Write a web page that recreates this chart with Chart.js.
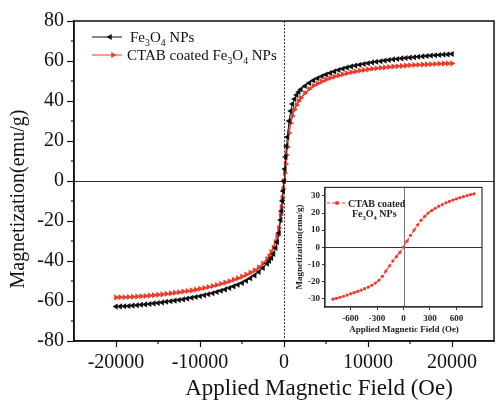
<!DOCTYPE html>
<html>
<head>
<meta charset="utf-8">
<script src="https://cdn.jsdelivr.net/npm/chart.js@4.4.1/dist/chart.umd.min.js"></script>
<style>
  html, body { margin: 0; padding: 0; background: #fff; }
  #wrap { position: relative; width: 498px; height: 400px; }
  #main { position: absolute; left: 0; top: 0; }
  #inset { position: absolute; left: 290px; top: 180px; }
</style>
</head>
<body>
<div id="wrap">
  <canvas id="main" width="498" height="400" style="width:498px;height:400px"></canvas>
  <canvas id="inset" width="200" height="160" style="width:200px;height:160px"></canvas>
</div>
<script>
// applied field (Oe), main plot
const field = [-20000,-19500,-19000,-18500,-18000,-17500,-17000,-16500,-16000,-15500,-15000,
  -14500,-14000,-13500,-13000,-12500,-12000,-11500,-11000,-10500,-10000,
  -9500,-9000,-8500,-8000,-7500,-7000,-6500,-6000,-5500,-5000,
  -4500,-4000,-3500,-3000,-2500,-2000,
  -1750,-1500,-1250,-1000,-800,-600,-400,-300,-200,-100,0,100,200,300,400,600,800,1000,1250,1500,1750,
  2000,2500,3000,3500,4000,4500,5000,5500,6000,6500,7000,7500,8000,8500,9000,9500,10000,
  10500,11000,11500,12000,12500,13000,13500,14000,14500,15000,
  15500,16000,16500,17000,17500,18000,18500,19000,19500,20000];

// Fe3O4 NPs magnetization (emu/g)
const bareM = [-62.8,-62.7,-62.6,-62.5,-62.3,-62.1,-61.9,-61.7,-61.5,-61.2,-61,
  -60.7,-60.4,-60.1,-59.8,-59.5,-59.2,-58.8,-58.4,-58,-57.6,
  -57.1,-56.6,-56.1,-55.5,-54.9,-54.2,-53.5,-52.7,-51.9,-51,
  -49.9,-48.6,-47.2,-45.5,-43.5,-41.3,
  -40,-38.5,-36.5,-33.5,-30.5,-26,-19.5,-15,-10,-5,0,6,12,17.5,22,30,35,38.5,41,43,44.5,
  45.8,47.5,49,50.3,51.4,52.4,53.2,54,54.8,55.5,56.1,56.7,57.2,57.7,58.1,58.5,58.9,
  59.3,59.6,59.9,60.2,60.5,60.8,61,61.3,61.5,61.7,
  61.9,62.1,62.3,62.5,62.7,62.9,63,63.2,63.3,63.5];

// CTAB coated Fe3O4 NPs magnetization (emu/g)
const ctabM = [-58.2,-58.15,-58.1,-58,-57.9,-57.8,-57.6,-57.5,-57.3,-57.1,-56.9,
  -56.7,-56.4,-56.2,-55.9,-55.6,-55.3,-55,-54.7,-54.3,-53.9,
  -53.5,-53,-52.5,-52,-51.4,-50.8,-50.1,-49.4,-48.6,-47.8,
  -46.8,-45.8,-44.6,-43.2,-41.3,-39,
  -37.5,-35.5,-33.3,-30.5,-27.5,-23.5,-17,-13,-8.5,-4,0,4,8.5,13,17,24,29,32.5,35.8,38,40,
  41.5,44,46,47.6,48.8,49.8,50.7,51.5,52.2,52.8,53.4,53.9,54.4,54.8,55.2,55.5,55.8,
  56.1,56.4,56.6,56.8,57,57.2,57.4,57.55,57.7,57.85,
  58,58.1,58.2,58.3,58.4,58.5,58.6,58.7,58.75,58.8];

const xTicks = [-20000, -10000, 0, 10000, 20000];
const xMinor = [-15000, -5000, 5000, 15000];
const yTicks = [-80, -60, -40, -20, 0, 20, 40, 60, 80];
const yMinor = [-70, -50, -30, -10, 10, 30, 50, 70];

// inset: low field region of the CTAB coated sample
const insetField = [-800,-760,-720,-680,-640,-600,-560,-520,-480,-440,-400,-360,-320,-280,-240,-200,-160,-120,-80,-40,
  0,40,80,120,160,200,240,280,320,360,400,440,480,520,560,600,640,680,720,760,800];
const insetM = [-30.4,-29.9,-29.3,-28.7,-28,-27.3,-26.6,-25.9,-25.1,-24.3,-23.4,-22.3,-21,-19.5,-17,-14,-11,-8,-5.5,-3,
  0,3.5,7,10,13,15.8,18,20,21.5,22.8,24,25,26,26.8,27.6,28.3,29,29.6,30.2,30.8,31.2];
const insetXTicks = [-600, -300, 0, 300, 600];
const insetYTicks = [-30, -20, -10, 0, 10, 20, 30];

const serif = "'Liberation Serif', 'Times New Roman', serif";
const red = '#ee3b2b';
const black = '#111';

// text with subscripts, parts = [[text, isSub], ...]
function subText(ctx, parts, x, y, size, weight) {
  let cx = x;
  parts.forEach(([t, sub]) => {
    ctx.font = `${weight} ${sub ? size * 0.65 : size}px ${serif}`;
    ctx.fillText(t, cx, sub ? y + size * 0.28 : y);
    cx += ctx.measureText(t).width;
  });
}

function hline(ctx, x1, x2, y) {
  ctx.beginPath(); ctx.moveTo(x1, y); ctx.lineTo(x2, y); ctx.stroke();
}
function vline(ctx, x, y1, y2) {
  ctx.beginPath(); ctx.moveTo(x, y1); ctx.lineTo(x, y2); ctx.stroke();
}

const mainDecor = {
  id: 'mainDecor',
  beforeDatasetsDraw(chart) {
    const { ctx, chartArea: a, scales: { x, y } } = chart;
    ctx.save();
    ctx.strokeStyle = '#333';
    ctx.lineWidth = 1;
    hline(ctx, a.left, a.right, Math.round(y.getPixelForValue(0)) + 0.5);
    ctx.setLineDash([2, 1.5]);
    vline(ctx, Math.round(x.getPixelForValue(0)) + 0.5, a.top, a.bottom);
    ctx.restore();
  },
  afterDatasetsDraw(chart) {
    const { ctx, chartArea: a, scales: { x, y } } = chart;
    ctx.save();
    ctx.strokeStyle = black;
    ctx.lineWidth = 1.5;
    ctx.strokeRect(a.left, a.top, a.right - a.left, a.bottom - a.top);
    ctx.lineWidth = 1.2;
    xMinor.forEach(v => vline(ctx, x.getPixelForValue(v), a.bottom, a.bottom + 3));
    yMinor.forEach(v => hline(ctx, a.left - 3, a.left, y.getPixelForValue(v)));

    // axis titles
    ctx.fillStyle = black;
    ctx.textAlign = 'center';
    ctx.textBaseline = 'middle';
    ctx.font = `23px ${serif}`;
    ctx.fillText('Applied Magnetic Field (Oe)', 319, 389);
    ctx.save();
    ctx.translate(19, 199);
    ctx.rotate(-Math.PI / 2);
    ctx.font = `20px ${serif}`;
    ctx.fillText('Magnetization(emu/g)', 0, 0);
    ctx.restore();

    // legend
    ctx.textAlign = 'left';
    ctx.textBaseline = 'alphabetic';
    ctx.lineWidth = 1;
    ctx.strokeStyle = black;
    hline(ctx, 92, 122, 37);
    ctx.fillStyle = black;
    Chart.helpers.drawPoint(ctx, { pointStyle: 'triangle', rotation: -90, radius: 3.5, borderWidth: 0 }, 110, 37);
    subText(ctx, [['Fe', 0], ['3', 1], ['O', 0], ['4', 1], [' NPs', 0]], 130, 42, 15, 'normal');
    ctx.strokeStyle = red;
    hline(ctx, 92, 122, 55);
    ctx.fillStyle = red;
    Chart.helpers.drawPoint(ctx, { pointStyle: 'triangle', rotation: 90, radius: 3.5, borderWidth: 0 }, 113, 55);
    ctx.fillStyle = black;
    subText(ctx, [['CTAB coated Fe', 0], ['3', 1], ['O', 0], ['4', 1], [' NPs', 0]], 127, 60, 15, 'normal');
    ctx.restore();
  }
};

new Chart(document.getElementById('main'), {
  type: 'scatter',
  data: {
    datasets: [
      {
        label: 'Fe3O4 NPs',
        data: field.map((f, i) => ({ x: f, y: bareM[i] })),
        showLine: true,
        borderColor: black,
        backgroundColor: black,
        borderWidth: 1,
        pointStyle: 'triangle',
        pointRotation: -90,
        pointRadius: 3.5,
        pointBorderWidth: 0
      },
      {
        label: 'CTAB coated Fe3O4 NPs',
        data: field.map((f, i) => ({ x: f, y: ctabM[i] })),
        showLine: true,
        borderColor: red,
        backgroundColor: red,
        borderWidth: 1.5,
        pointStyle: 'triangle',
        pointRotation: 90,
        pointRadius: 3.5,
        pointBorderWidth: 0
      }
    ]
  },
  options: {
    responsive: false,
    animation: false,
    layout: { padding: { top: 21, right: 1, left: 0, bottom: 0 } },
    plugins: { legend: { display: false }, tooltip: { enabled: false } },
    scales: {
      x: {
        type: 'linear', min: -25000, max: 25000,
        afterBuildTicks: s => { s.ticks = xTicks.map(v => ({ value: v })); },
        afterFit: s => { s.height = 59; },
        grid: { drawOnChartArea: false, tickLength: 6, tickColor: black, tickWidth: 1.2 },
        border: { color: black, width: 1.5 },
        ticks: { color: black, font: { family: serif, size: 20 }, padding: 4, maxRotation: 0, callback: v => String(v) }
      },
      y: {
        min: -80, max: 80,
        afterBuildTicks: s => { s.ticks = yTicks.map(v => ({ value: v })); },
        afterFit: s => { s.width = 74; },
        grid: { drawOnChartArea: false, tickLength: 7, tickColor: black, tickWidth: 1.2 },
        border: { color: black, width: 1.5 },
        ticks: { color: black, font: { family: serif, size: 20 }, padding: 3, callback: v => String(v) }
      }
    }
  },
  plugins: [mainDecor]
});

const insetDecor = {
  id: 'insetDecor',
  beforeDatasetsDraw(chart) {
    const { ctx, chartArea: a, scales: { x, y } } = chart;
    ctx.save();
    ctx.lineWidth = 1;
    ctx.strokeStyle = '#333';
    hline(ctx, a.left, a.right, Math.round(y.getPixelForValue(0)) + 0.5);
    ctx.strokeStyle = '#777';
    vline(ctx, Math.round(x.getPixelForValue(0)) + 0.5, a.top, a.bottom);
    ctx.restore();
  },
  afterDatasetsDraw(chart) {
    const { ctx, chartArea: a } = chart;
    ctx.save();
    ctx.strokeStyle = '#333';
    ctx.lineWidth = 1.2;
    ctx.strokeRect(a.left, a.top, a.right - a.left, a.bottom - a.top);

    ctx.fillStyle = '#222';
    ctx.textAlign = 'center';
    ctx.textBaseline = 'middle';
    ctx.font = `bold 9px ${serif}`;
    ctx.fillText('Applied Magnetic Field (Oe)', 114, 150);
    ctx.save();
    ctx.translate(10, 67);
    ctx.rotate(-Math.PI / 2);
    ctx.fillText('Magnetization(emu/g)', 0, 0);
    ctx.restore();

    // legend
    ctx.strokeStyle = red;
    ctx.lineWidth = 1;
    ctx.setLineDash([3, 2]);
    hline(ctx, 37, 56, 23);
    ctx.setLineDash([]);
    ctx.fillStyle = red;
    Chart.helpers.drawPoint(ctx, { pointStyle: 'circle', radius: 2, borderWidth: 0 }, 47, 23);
    ctx.fillStyle = '#222';
    ctx.textAlign = 'left';
    ctx.textBaseline = 'alphabetic';
    subText(ctx, [['CTAB coated', 0]], 58, 26.5, 10, 'bold');
    subText(ctx, [['Fe', 0], ['3', 1], ['O', 0], ['4', 1], [' NPs', 0]], 62, 37, 10, 'bold');
    ctx.restore();
  }
};

new Chart(document.getElementById('inset'), {
  type: 'scatter',
  data: {
    datasets: [{
      label: 'CTAB coated Fe3O4 NPs',
      data: insetField.map((f, i) => ({ x: f, y: insetM[i] })),
      showLine: true,
      borderColor: red,
      backgroundColor: red,
      borderWidth: 1.2,
      borderDash: [3, 1.5],
      pointStyle: 'circle',
      pointRadius: 1.6,
      pointBorderWidth: 0
    }]
  },
  options: {
    responsive: false,
    animation: false,
    layout: { padding: { top: 7, right: 8, left: 0, bottom: 0 } },
    plugins: { legend: { display: false }, tooltip: { enabled: false } },
    scales: {
      x: {
        type: 'linear', min: -890, max: 890,
        afterBuildTicks: s => { s.ticks = insetXTicks.map(v => ({ value: v })); },
        afterFit: s => { s.height = 33; },
        grid: { drawOnChartArea: false, tickLength: 3, tickColor: '#333', tickWidth: 1 },
        border: { color: '#333', width: 1.2 },
        ticks: { color: '#222', font: { family: serif, size: 9, weight: 'bold' }, padding: 3, maxRotation: 0, callback: v => String(v) }
      },
      y: {
        min: -35, max: 35,
        afterBuildTicks: s => { s.ticks = insetYTicks.map(v => ({ value: v })); },
        afterFit: s => { s.width = 35; },
        grid: { drawOnChartArea: false, tickLength: 3, tickColor: '#333', tickWidth: 1 },
        border: { color: '#333', width: 1.2 },
        ticks: { color: '#222', font: { family: serif, size: 9, weight: 'bold' }, padding: 2, callback: v => String(v) }
      }
    }
  },
  plugins: [insetDecor]
});
</script>
</body>
</html>
